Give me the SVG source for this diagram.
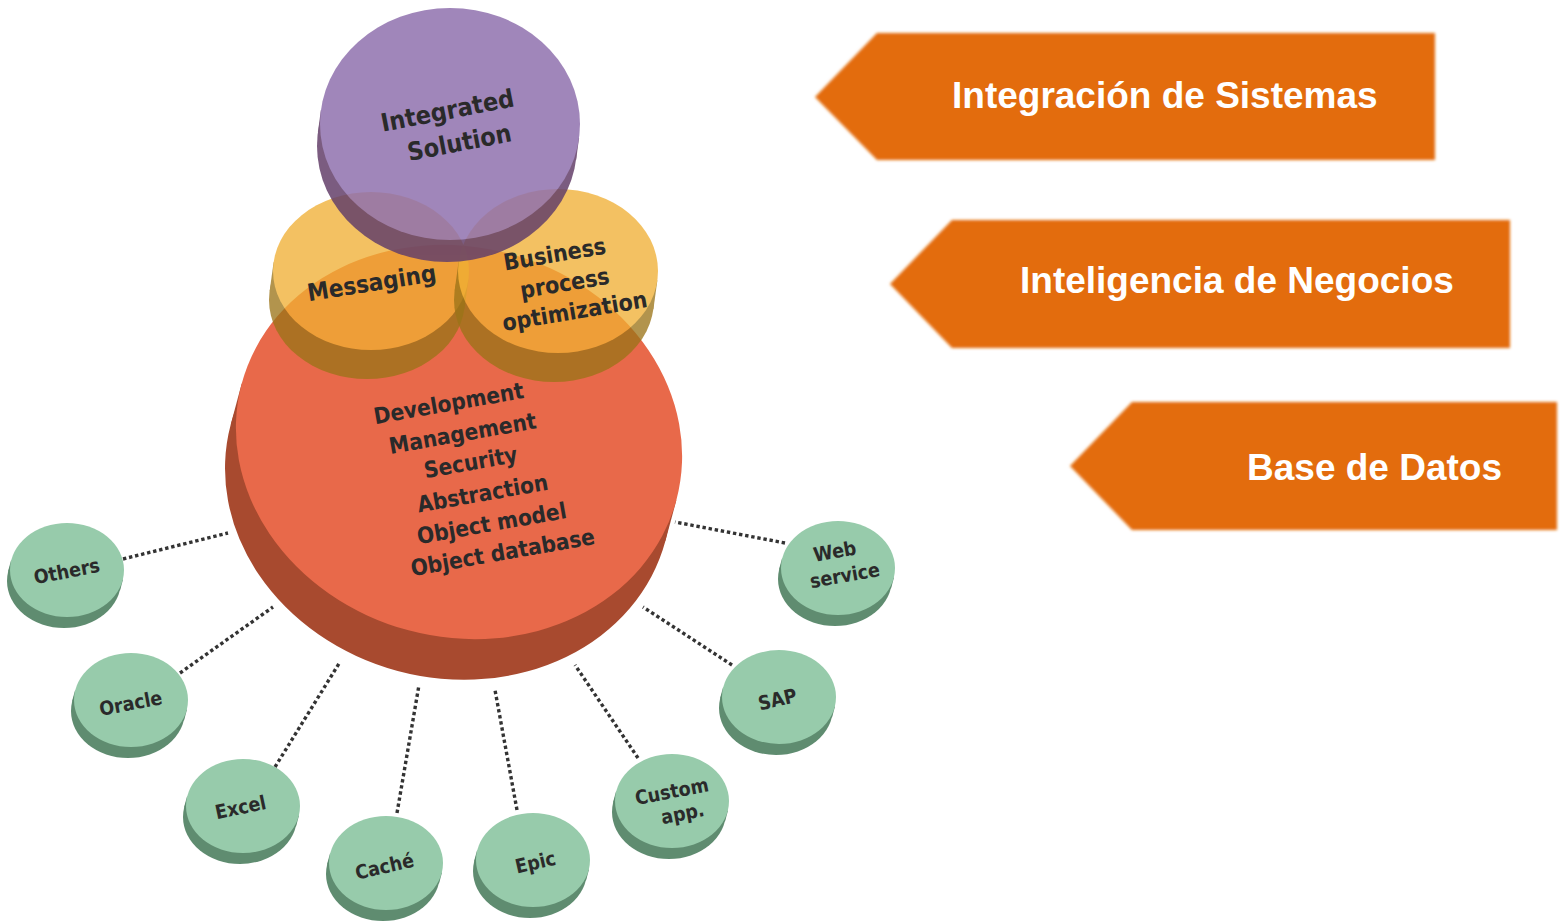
<svg xmlns="http://www.w3.org/2000/svg" xmlns:xlink="http://www.w3.org/1999/xlink" width="1560" height="923" viewBox="0 0 1560 923">
<style>
.lbl{font-family:"DejaVu Sans Condensed","DejaVu Sans",sans-serif;font-stretch:condensed;font-weight:bold;fill:#2a2a2a;text-anchor:middle}
.big{font-size:22.5px}
.mid{font-size:23px}
.sm{font-size:19.5px}
.ban{font-family:"Liberation Sans",Arial,sans-serif;font-weight:bold;font-size:37px;fill:#ffffff}
.conn{stroke:#333333;stroke-width:3.4;stroke-dasharray:3.4 2.8;fill:none}
.arrow{fill:#E36C0A;filter:url(#soft)}
.gface{fill:#97CBAB}
.gside{fill:#5F8C70}
</style>
<defs>
<filter id="soft" x="-5%" y="-10%" width="110%" height="120%"><feGaussianBlur stdDeviation="1.6"/></filter>
<g id="gdisc">
<ellipse class="gside" cx="-3" cy="11" rx="57" ry="47"/>
<polygon class="gside" points="56,9.5 53,20.5 -59,1.5 -56,-9.5"/>
<ellipse class="gface" cx="0" cy="0" rx="57" ry="47"/>
</g>
</defs>
<rect width="1560" height="923" fill="#ffffff"/>

<g id="connectors">
<line class="conn" x1="123" y1="559" x2="228" y2="533"/>
<line class="conn" x1="180" y1="673" x2="273" y2="607"/>
<line class="conn" x1="275" y1="767" x2="340" y2="662"/>
<line class="conn" x1="397" y1="813" x2="419" y2="685"/>
<line class="conn" x1="517" y1="810" x2="495" y2="690"/>
<line class="conn" x1="638" y1="758" x2="575" y2="665"/>
<line class="conn" x1="732" y1="665" x2="643" y2="607"/>
<line class="conn" x1="785" y1="543" x2="675" y2="522"/>
</g>

<g id="node-core">
<g transform="translate(459,442) rotate(15)">
<ellipse cx="0" cy="42" rx="225" ry="195" fill="#A84A2F"/>
<rect x="-225" y="0" width="450" height="42" fill="#A84A2F"/>
<ellipse cx="0" cy="0" rx="225" ry="195" fill="#E8694A"/>
</g>
<text class="lbl big" transform="translate(450,411) rotate(-10)">Development</text>
<text class="lbl big" transform="translate(464,441) rotate(-10)">Management</text>
<text class="lbl big" transform="translate(472,470) rotate(-10)">Security</text>
<text class="lbl big" transform="translate(484,501) rotate(-10)">Abstraction</text>
<text class="lbl big" transform="translate(493,531) rotate(-10)">Object model</text>
<text class="lbl big" transform="translate(504,560) rotate(-10)">Object database</text>
</g>

<g id="node-messaging">
<g opacity="0.77" transform="translate(371,271)">
<ellipse cx="-4" cy="29" rx="98" ry="79" fill="#9B7418"/>
<polygon points="97.4,8.7 93.4,37.7 -101.4,20.3 -97.4,-8.7" fill="#9B7418"/>
<ellipse cx="0" cy="0" rx="98" ry="79" fill="#F0AF33"/>
</g>
<text class="lbl" font-size="24" transform="translate(373,291) rotate(-9)">Messaging</text>
</g>

<g id="node-business">
<g opacity="0.77" transform="translate(558,271)">
<ellipse cx="-4" cy="29" rx="100" ry="82" fill="#9B7418"/>
<polygon points="99.4,9.2 95.4,38.2 -103.4,19.8 -99.4,-9.2" fill="#9B7418"/>
<ellipse cx="0" cy="0" rx="100" ry="82" fill="#F0AF33"/>
</g>
<text class="lbl mid" transform="translate(556,262) rotate(-9.5)">Business</text>
<text class="lbl mid" transform="translate(566,291) rotate(-9.5)">process</text>
<text class="lbl mid" transform="translate(576,319) rotate(-9.5)">optimization</text>
</g>

<g id="node-integrated">
<g opacity="0.85" transform="translate(450,124)">
<ellipse cx="-3" cy="22" rx="130" ry="116" fill="#64406A"/>
<polygon points="129.1,14 126.1,36 -132.1,8 -129.1,-14" fill="#64406A"/>
<ellipse cx="0" cy="0" rx="130" ry="116" fill="#9071AE"/>
</g>
<text class="lbl" font-size="25" transform="translate(449,119) rotate(-11)">Integrated</text>
<text class="lbl" font-size="25" transform="translate(461,151) rotate(-11)">Solution</text>
</g>

<g id="node-others" transform="translate(67,570)">
<use xlink:href="#gdisc"/>
<text class="lbl sm" transform="translate(1,8) rotate(-11)">Others</text>
</g>
<g id="node-oracle" transform="translate(131,700)">
<use xlink:href="#gdisc"/>
<text class="lbl sm" transform="translate(1,10) rotate(-11)">Oracle</text>
</g>
<g id="node-excel" transform="translate(243,806)">
<use xlink:href="#gdisc"/>
<text class="lbl sm" transform="translate(-1,8) rotate(-12)">Excel</text>
</g>
<g id="node-cache" transform="translate(386,863)">
<use xlink:href="#gdisc"/>
<text class="lbl sm" transform="translate(0,10) rotate(-13)">Caché</text>
</g>
<g id="node-epic" transform="translate(533,860)">
<use xlink:href="#gdisc"/>
<text class="lbl sm" transform="translate(4,9) rotate(-13)">Epic</text>
</g>
<g id="node-custom" transform="translate(672,801)">
<use xlink:href="#gdisc"/>
<text class="lbl sm" transform="translate(1,-3) rotate(-11)">Custom</text>
<text class="lbl sm" transform="translate(12,19) rotate(-11)">app.</text>
</g>
<g id="node-sap" transform="translate(779,697)">
<use xlink:href="#gdisc"/>
<text class="lbl sm" transform="translate(0,9) rotate(-13)">SAP</text>
</g>
<g id="node-web" transform="translate(838,568)">
<use xlink:href="#gdisc"/>
<text class="lbl sm" transform="translate(-2,-10) rotate(-10)">Web</text>
<text class="lbl sm" transform="translate(8,14) rotate(-10)">service</text>
</g>

<g id="banner-integracion">
<polygon class="arrow" points="877,33 1435,33 1435,160 877,160 815,97"/>
<text class="ban" x="952" y="108">Integración de Sistemas</text>
</g>
<g id="banner-inteligencia">
<polygon class="arrow" points="952,220 1510,220 1510,348 952,348 890,284"/>
<text class="ban" x="1020" y="293">Inteligencia de Negocios</text>
</g>
<g id="banner-base">
<polygon class="arrow" points="1132,402 1557,402 1557,530 1132,530 1070,466"/>
<text class="ban" x="1247" y="480">Base de Datos</text>
</g>
</svg>
